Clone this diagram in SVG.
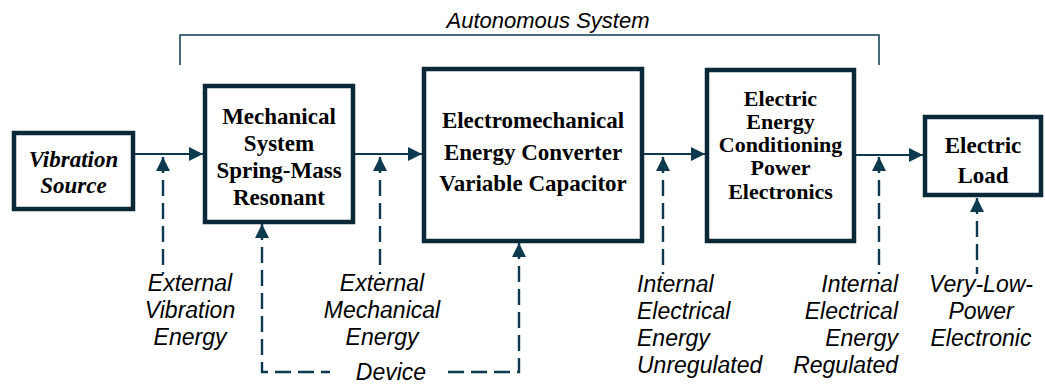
<svg xmlns="http://www.w3.org/2000/svg" width="1045" height="385" viewBox="0 0 1045 385">
<defs>
<style>
.box{fill:#fff;stroke:#0a2838;stroke-width:4.5}
.bt{font-family:"Liberation Serif","Times New Roman",serif;font-weight:bold;font-size:23px;fill:#000;text-anchor:middle}
.bs{font-size:22px}
.lbl{font-family:"Liberation Sans",Arial,sans-serif;font-style:italic;font-size:23px;fill:#000}
.ln{fill:none;stroke:#0e3a50;stroke-width:2.2}
.dash{fill:none;stroke:#0e3a50;stroke-width:2.4;stroke-dasharray:16 7}
</style>
<marker id="ah" markerUnits="userSpaceOnUse" markerWidth="14" markerHeight="14" viewBox="0 0 13 13" refX="13" refY="6.5" orient="auto-start-reverse">
<path d="M0,0 L13,6.5 L0,13 z" fill="#0e3a50"/>
</marker>
</defs>
<rect width="1045" height="385" fill="#fff"/>

<g id="bracket">
<path class="ln" style="stroke-width:1.5" d="M180,65 V35 H879 V65"/>
<text class="lbl" x="548" y="28" text-anchor="middle" style="font-size:22px">Autonomous System</text>
</g>

<g id="connectors">
<path class="ln" d="M135,154 H203" marker-end="url(#ah)"/>
<path class="ln" d="M355,154 H422" marker-end="url(#ah)"/>
<path class="ln" d="M644,154 H705" marker-end="url(#ah)"/>
<path class="ln" d="M856,155 H923" marker-end="url(#ah)"/>
<path class="dash" d="M163,157 V274" marker-start="url(#ah)"/>
<path class="dash" d="M380,157 V274" marker-start="url(#ah)"/>
<path class="dash" d="M663,157 V274" marker-start="url(#ah)"/>
<path class="dash" d="M879,157 V274" marker-start="url(#ah)"/>
<path class="dash" d="M977,198 V274" marker-start="url(#ah)"/>
<path class="dash" d="M262,224 V372 H330" marker-start="url(#ah)"/>
<path class="dash" d="M519,243 V372 H447" marker-start="url(#ah)"/>
</g>

<g id="vibration-source">
<rect class="box" x="14" y="133" width="119" height="76"/>
<text class="bt" style="font-style:italic" x="73.5" y="167">Vibration</text>
<text class="bt" style="font-style:italic" x="73.5" y="193">Source</text>
</g>

<g id="mechanical-system">
<rect class="box" x="205" y="86" width="148" height="136"/>
<text class="bt" x="279" y="124">Mechanical</text>
<text class="bt" x="279" y="151">System</text>
<text class="bt" x="279" y="178">Spring-Mass</text>
<text class="bt" x="279" y="205">Resonant</text>
</g>

<g id="electromechanical-converter">
<rect class="box" x="424" y="69" width="218" height="172"/>
<text class="bt" x="533" y="128">Electromechanical</text>
<text class="bt" x="533" y="160">Energy Converter</text>
<text class="bt" x="533" y="191">Variable Capacitor</text>
</g>

<g id="energy-conditioning">
<rect class="box" x="707" y="70" width="147" height="171"/>
<text class="bt bs" x="780.5" y="106">Electric</text>
<text class="bt bs" x="780.5" y="129">Energy</text>
<text class="bt bs" x="780.5" y="152">Conditioning</text>
<text class="bt bs" x="780.5" y="175">Power</text>
<text class="bt bs" x="780.5" y="199">Electronics</text>
</g>

<g id="electric-load">
<rect class="box" x="925" y="117" width="116" height="78"/>
<text class="bt" x="983" y="153">Electric</text>
<text class="bt" x="983" y="183">Load</text>
</g>

<g id="labels">
<text class="lbl" text-anchor="middle"><tspan x="190" y="291">External</tspan><tspan x="190" y="318">Vibration</tspan><tspan x="190" y="345">Energy</tspan></text>
<text class="lbl" text-anchor="middle"><tspan x="382" y="291">External</tspan><tspan x="382" y="318">Mechanical</tspan><tspan x="382" y="345">Energy</tspan></text>
<text class="lbl" text-anchor="start"><tspan x="637" y="292">Internal</tspan><tspan x="637" y="319">Electrical</tspan><tspan x="637" y="346">Energy</tspan><tspan x="637" y="373">Unregulated</tspan></text>
<text class="lbl" text-anchor="end"><tspan x="898" y="292">Internal</tspan><tspan x="898" y="319">Electrical</tspan><tspan x="898" y="346">Energy</tspan><tspan x="898" y="373">Regulated</tspan></text>
<text class="lbl" text-anchor="middle"><tspan x="981" y="292">Very-Low-</tspan><tspan x="981" y="319">Power</tspan><tspan x="981" y="346">Electronic</tspan></text>
<text class="lbl" x="391" y="380" text-anchor="middle">Device</text>
</g>
</svg>
